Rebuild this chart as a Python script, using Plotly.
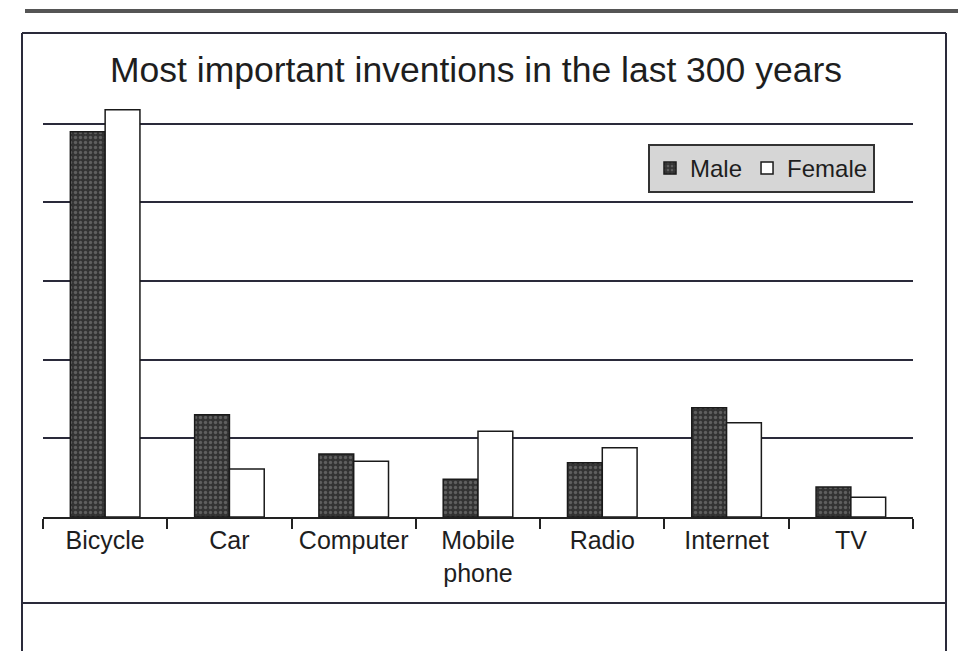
import plotly.graph_objects as go

# Values (no y scale printed; one gridline = 10 units)
categories = ["Bicycle", "Car", "Computer", "Mobile<br>phone", "Radio", "Internet", "TV"]
male = [49.0, 13.0, 8.0, 4.8, 6.9, 13.9, 3.8]
female = [51.8, 6.1, 7.1, 10.9, 8.8, 12.0, 2.5]
gridlines = [10, 20, 30, 40, 50]

# the page body has an 8px margin, so the figure is drawn 8px in from the window corner
OFF = 8
W, H = 966 - OFF, 651 - OFF
L, R, T, B = 43 - OFF, 53, 90 - OFF, 134

# convert window pixel positions to paper coords (for the frame drawn around the chart)
def px(x):
    return (x - OFF - L) / (W - L - R)

def py(y):
    return (H - B - (y - OFF)) / (H - T - B)

fig = go.Figure()
fig.add_trace(go.Bar(
    x=categories, y=male, name="Male",
    marker=dict(color="#3a3a3a", line=dict(color="#1a1a1a", width=1.5),
                pattern=dict(shape=".", fgcolor="#8c8c8c", bgcolor="#333333", size=5, solidity=0.35)),
))
fig.add_trace(go.Bar(
    x=categories, y=female, name="Female",
    marker=dict(color="white", line=dict(color="#1a1a1a", width=1.5)),
))

# page frame from the scan
frame = dict(type="line", xref="paper", yref="paper", line=dict(color="#2a2a3a", width=2))
fig.add_shape(frame, x0=px(22), x1=px(946), y0=py(33), y1=py(33))
fig.add_shape(frame, x0=px(22), x1=px(22), y0=py(33), y1=py(651))
fig.add_shape(frame, x0=px(946), x1=px(946), y0=py(33), y1=py(651))
fig.add_shape(frame, x0=px(22), x1=px(946), y0=py(603), y1=py(603))
fig.add_shape(type="line", xref="paper", yref="paper", x0=px(25), x1=px(962), y0=py(11), y1=py(11),
              line=dict(color="#555555", width=4))

fig.update_layout(
    width=W, height=H,
    margin=dict(l=L, r=R, t=T, b=B),
    paper_bgcolor="white", plot_bgcolor="white",
    font=dict(family="Liberation Sans, Arial, sans-serif", color="#1e1e1e"),
    title=dict(text="Most important inventions in the last 300 years",
               x=(476 - OFF) / W, xanchor="center", y=(H - (70 - OFF)) / H, yanchor="middle",
               font=dict(size=35.5, color="#1e1e1e")),
    barmode="group", bargap=0.44, bargroupgap=0,
    legend=dict(orientation="h", x=px(648), y=py(144), xanchor="left", yanchor="top",
                bgcolor="#d6d6d6", bordercolor="#333333", borderwidth=2,
                font=dict(size=24, color="#1e1e1e"), itemwidth=30, traceorder="normal"),
    showlegend=True,
)
fig.update_xaxes(showline=True, linecolor="#222222", linewidth=2, tickangle=0,
                 ticks="outside", tickson="boundaries", ticklen=10, tickwidth=2, tickcolor="#222222",
                 tickfont=dict(size=25, color="#1e1e1e"), showgrid=False)
fig.update_yaxes(range=[0, 54.3], tickvals=gridlines, showticklabels=False,
                 showgrid=True, gridcolor="#2a2a3a", gridwidth=2, zeroline=False, showline=False)

fig.write_html("out.html")
